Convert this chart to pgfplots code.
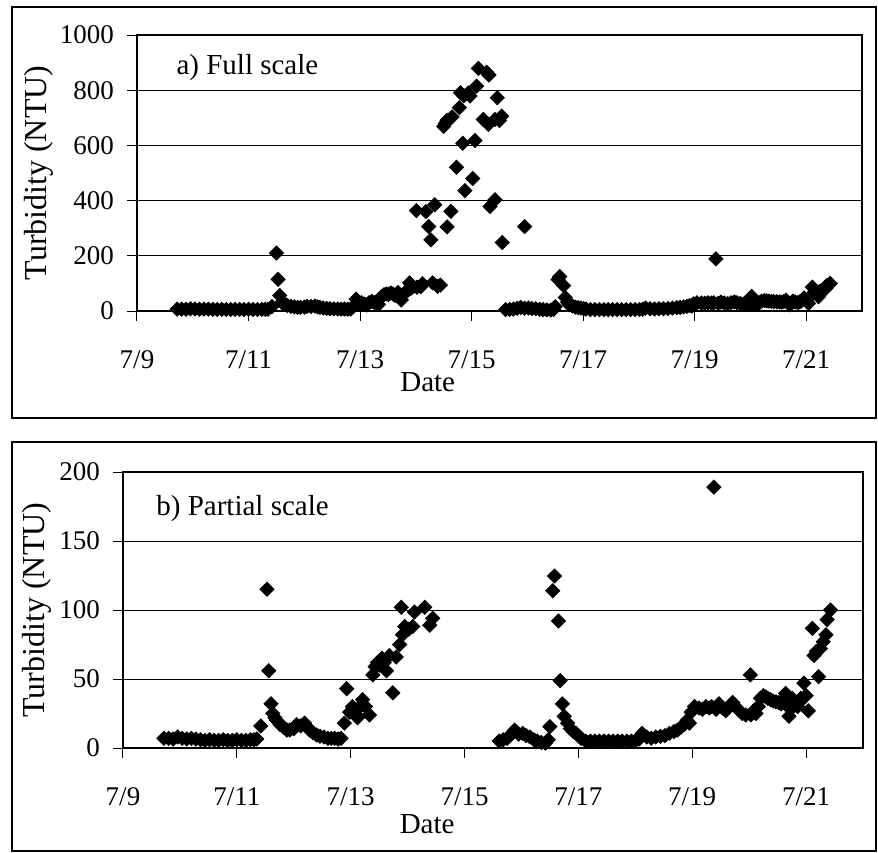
\documentclass[border=0pt]{standalone}
\usepackage{fontspec}
\setmainfont{Liberation Serif}
\usepackage{pgfplots}
\usepackage{pgfplotstable}
\pgfplotsset{compat=1.18}

\pgfplotstableread{
d v
9.72 7
9.80 7
9.88 6.5
9.96 8
10.04 7
10.12 6.5
10.20 7
10.28 6.5
10.36 6
10.44 5.5
10.52 6
10.60 5.5
10.68 5.5
10.76 6
10.84 5.5
10.92 5.5
11.00 6
11.08 5.5
11.16 5.5
11.24 6
11.30 6
11.35 6.5
11.42 16
11.50 210
11.53 115
11.56 56
11.60 32
11.63 25
11.67 22
11.70 20
11.76 17
11.82 15
11.88 13
11.93 13
12.00 14
12.05 17
12.12 16
12.19 18
12.24 15
12.28 13
12.34 11
12.40 9.5
12.46 8.5
12.53 8
12.60 7
12.66 7
12.72 7
12.78 6.5
12.83 7
12.89 18
12.93 43
12.98 26
13.03 30
13.08 25
13.12 22
13.16 30
13.21 35
13.26 30
13.33 24
13.39 53
13.43 59
13.47 62
13.51 60
13.55 65
13.59 62
13.63 56
13.68 67
13.74 40
13.80 66
13.86 75
13.89 102
13.91 82
13.95 88
14.01 364
14.02 86
14.09 88
14.12 98.5
14.18 360
14.23 306
14.27 258
14.30 102
14.34 385
14.39 89
14.44 94
14.50 669
14.53 680
14.56 691
14.56 305
14.63 361
14.65 703
14.73 521
14.78 737
14.80 791
14.84 608
14.86 780
14.88 436
14.94 790
14.97 779
15.02 480
15.06 618
15.09 815
15.12 879
15.21 694
15.27 865
15.30 676
15.31 855
15.33 379
15.42 694
15.42 403
15.46 773
15.50 690
15.54 706
15.55 248
15.61 5
15.68 6
15.75 7
15.82 10
15.88 13
15.95 306
15.95 10
16.02 10.6
16.08 9
16.15 8
16.22 6
16.28 5
16.35 4
16.42 3.5
16.47 6
16.50 15.5
16.55 114
16.58 124.6
16.65 92
16.68 48.8
16.72 32
16.75 23
16.81 18
16.86 14
16.91 12
16.96 10.6
17.01 8.5
17.05 7
17.13 5
17.21 5
17.29 5
17.37 5
17.45 5
17.53 5
17.61 5
17.69 5
17.77 5
17.85 5
17.93 5
18.01 5.5
18.07 6.5
18.12 10.6
18.20 8
18.28 7
18.36 8
18.44 8.5
18.52 9
18.60 10.6
18.68 12
18.74 13
18.80 15
18.86 17
18.91 20
18.95 18
18.98 26
19.04 30
19.12 29
19.18 28
19.24 30
19.30 29
19.34 30
19.38 189
19.42 28
19.47 32
19.53 29
19.59 27
19.65 30
19.71 33
19.76 30
19.82 27.5
19.88 25
19.94 24
20.02 53
20.03 24
20.08 27
20.12 25
20.16 30
20.20 36
20.25 38
20.29 37
20.33 36
20.38 35
20.42 34
20.47 33.5
20.52 33
20.56 32
20.60 35
20.64 39.6
20.70 23
20.73 28
20.76 36
20.80 33
20.85 30
20.88 33
20.91 36
20.96 47
21.00 38
21.04 27
21.11 86.7
21.14 67
21.18 70
21.22 51.7
21.25 72
21.30 77
21.35 82
21.37 93
21.43 100
}\turb

\pgfplotsset{
  panel/.style={
    scale only axis, anchor=south west,
    xmin=9, xmax=22,
    xtick={9,11,...,21},
    xticklabels={7/9,7/11,7/13,7/15,7/17,7/19,7/21},
    tick pos=left, tick align=outside, major tick length=5pt,
    tick style={black, line width=0.5pt},
    ymajorgrids, grid style={black, line width=0.5pt},
    axis line style={black, line width=0.8pt},
    tick label style={font=\fontsize{13.5}{15}\selectfont},
    label style={font=\fontsize{14.5}{17}\selectfont},
    ylabel style={font=\fontsize{16}{18}\selectfont},
    /pgf/number format/assume math mode=true,
    /pgf/number format/1000 sep={},
    xticklabel style={yshift=-11.5pt},
    yticklabel style={xshift=-3pt},
    ylabel={Turbidity (NTU)},
    xlabel={Date},
    clip=false,
  },
  dots/.style={only marks, mark=square*, mark size=2.5pt,
    mark options={rotate=45, fill=black, draw=black, line width=0.4pt}},
}

\begin{document}
\begin{tikzpicture}
\path[use as bounding box] (0pt,0pt) rectangle (439pt,-426pt);
\draw[line width=0.6pt] (6pt,-3.5pt) rectangle (438pt,-209pt);
\draw[line width=0.6pt] (6pt,-221pt) rectangle (438pt,-425.5pt);

\begin{axis}[panel, at={(68.5pt,-155.5pt)}, width=362.5pt, height=138pt,
  ymin=0, ymax=1000, ytick={0,200,...,1000},
  ylabel style={at={(axis description cs:-0.135,0.5)}, anchor=center},
  xlabel style={at={(axis description cs:0.401,0)}, anchor=base, yshift=-40pt},
]
\addplot[dots] table[x=d, y=v] {\turb};
\node[anchor=base west, inner sep=0pt, font=\fontsize{14.5}{17}\selectfont] at (rel axis cs:0.054,0.858) {a) Full scale};
\end{axis}

\begin{axis}[panel, at={(61.5pt,-374pt)}, width=370pt, height=138pt,
  ymin=0, ymax=200, ytick={0,50,...,200},
  ylabel style={at={(axis description cs:-0.117,0.5)}, anchor=center},
  xlabel style={at={(axis description cs:0.411,0)}, anchor=base, yshift=-42.5pt},
]
\addplot[dots, restrict y to domain=0:200] table[x=d, y=v] {\turb};
\node[anchor=base west, inner sep=0pt, font=\fontsize{14.5}{17}\selectfont] at (rel axis cs:0.0446,0.844) {b) Partial scale};
\end{axis}
\end{tikzpicture}
\end{document}
